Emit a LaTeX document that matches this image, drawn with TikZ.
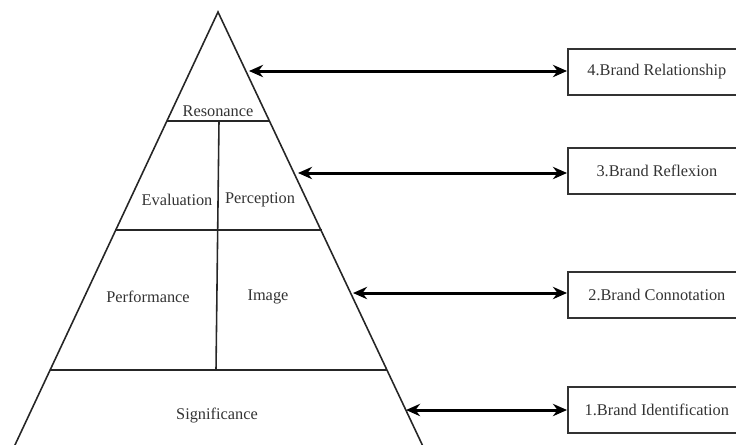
\documentclass[tikz,border=0pt]{standalone}
\usepackage{fontspec}
\setmainfont{Liberation Serif}
\usetikzlibrary{arrows.meta}
\tikzset{%
  level/.style={inner sep=0pt,text=black!80,font=\fontsize{9.3}{10}\selectfont},
  brandbox/.style={draw,line width=1pt,draw=black!80,anchor=west,minimum width=3.56cm,
    minimum height=0.92cm,text=black!80,font=\fontsize{9.3}{10}\selectfont},
  link/.style={line width=1.7pt,{Stealth[length=8pt,width=7pt]}-{Stealth[length=8pt,width=7pt]}}
}

\begin{document}
\begin{tikzpicture}[x=0.02cm,y=-0.02cm,line width=0.9pt]
  \useasboundingbox (0,0) rectangle (736,444);
  \clip (0,0) rectangle (736,444);
  \coordinate (top) at (218,12);
  \coordinate (bl) at (12.6,450);
  \coordinate (br) at (424.7,450);
  \draw[black!85] (bl) -- (top) -- (br);
  % levels of the pyramid
  \draw[black!85] (167,121) -- (270,121);
  \draw[black!85] (115,230) -- (322,230);
  \draw[black!85] (50,370) -- (387,370);
  \draw[black!85] (219,121) -- (216,370);
  \node[level] (res) at (218,111) {Resonance};
  \node[level] (eva) at (177,200) {Evaluation};
  \node[level] (per) at (260,200) {Perception};
  \node[level] (perf) at (148,297) {Performance};
  \node[level] (img) at (268,297) {Image};
  \node[level] (sig) at (217,415) {Significance};
  % boxes on the right
  \node[brandbox] (b4) at (567,72) {4.Brand Relationship};
  \node[brandbox] (b3) at (567,171) {3.Brand Reflexion};
  \node[brandbox] (b2) at (567,295) {2.Brand Connotation};
  \node[brandbox] (b1) at (567,410) {1.Brand Identification};
  \coordinate (e4) at (249,71);
  \coordinate (e3) at (298,173);
  \coordinate (e2) at (353,293);
  \coordinate (e1) at (406,410);
  \draw[link] (e4) -- (b4.west |- e4);
  \draw[link] (e3) -- (b3.west |- e3);
  \draw[link] (e2) -- (b2.west |- e2);
  \draw[link] (e1) -- (b1.west |- e1);
\end{tikzpicture}
\end{document}
